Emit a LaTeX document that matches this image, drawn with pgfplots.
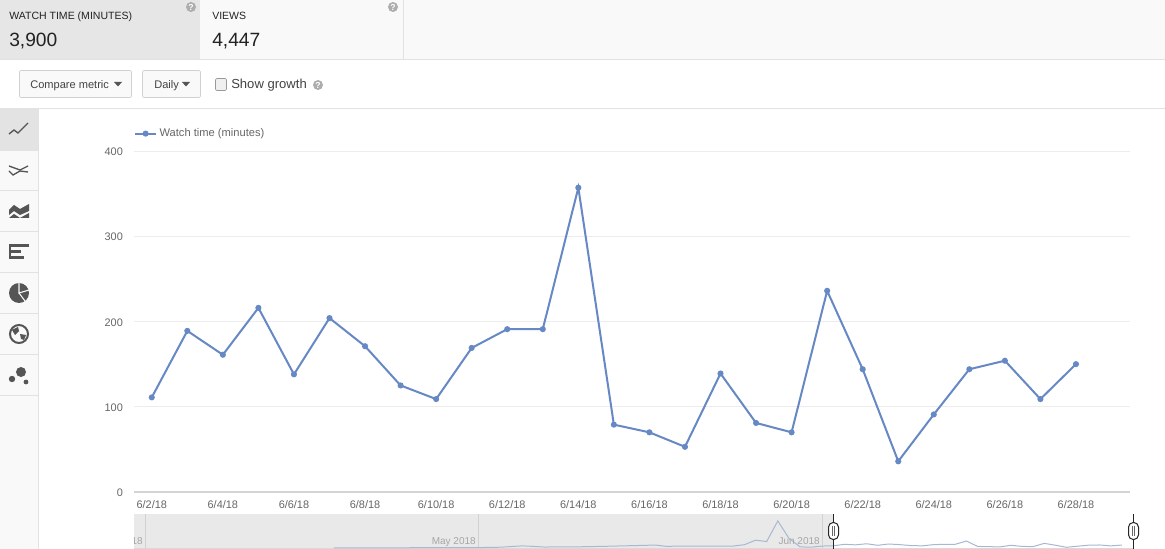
\documentclass[border=0pt]{standalone}
\usepackage{pgfplots}
\usepackage{pgfplotstable}
\usepackage{fontspec}
\setmainfont{Liberation Sans}
\pgfplotsset{compat=1.18}

\definecolor{linecol}{HTML}{6688C4}
\definecolor{navcol}{HTML}{A8B8D2}
\definecolor{panel}{HTML}{F9F9F9}
\definecolor{tabsel}{HTML}{E6E6E6}
\definecolor{rulecol}{HTML}{E2E2E2}
\definecolor{gridcol}{HTML}{EDEDED}
\definecolor{txt}{HTML}{222222}
\definecolor{ticktxt}{HTML}{666666}
\definecolor{icon}{HTML}{555555}
\definecolor{navgray}{HTML}{E9E9E9}

% day of June, watch time in minutes
\pgfplotstableread{
day minutes
2 111
3 189
4 161
5 216
6 138
7 204
8 171
9 125
10 109
11 169
12 191
13 191
14 357
15 79
16 70
17 53
18 139
19 81
20 70
21 236
22 144
23 36
24 91
25 144
26 154
27 109
28 150
}\maindata

% overview strip before the selected range, days from June 1
\pgfplotstableread{
day minutes
-44 5
-40 10
-35 15
-31 20
-29 40
-27 110
-25 50
-22 60
-20 80
-15 150
-14 80
-13 100
-11 100
-8 100
-7 170
-6 400
-5 330
-4 1380
-3 500
-2 60
-1 40
0 100
1 111
}\navdata

\newcommand{\fs}[1]{\fontsize{#1}{#1}\selectfont}
\newcommand{\qmark}[2]{%
  \fill[black!32] (#1,#2) circle (5);
  \node[white,font=\fs{6.5}\bfseries,inner sep=0] at (#1,#2) {?};}

\begin{document}
\begin{tikzpicture}[x=0.75pt,y=-0.75pt]
\useasboundingbox (0,0) rectangle (1165,549);
\fill[white] (0,0) rectangle (1165,549);
\coordinate (mainsw) at (134,492);
\coordinate (navsw) at (134,549);

% top tabs
\fill[panel] (0,0) rectangle (1165,59);
\fill[tabsel] (0,0) rectangle (200,59);
\draw[rulecol] (0,59.5) -- (1165,59.5);
\draw[rulecol] (403.5,0) -- (403.5,59);
\node[anchor=base west,inner sep=0,text=txt,font=\fs{7.9}] at (9,20) {WATCH TIME (MINUTES)};
\node[anchor=base west,inner sep=0,text=txt,font=\fs{14.4}] at (9,47) {3,900};
\node[anchor=base west,inner sep=0,text=txt,font=\fs{7.9}] at (212,20) {VIEWS};
\node[anchor=base west,inner sep=0,text=txt,font=\fs{14.4}] at (212,47) {4,447};
\qmark{191}{7}
\qmark{393}{7}

% controls
\draw[black!18,fill=panel,rounded corners=1] (19.5,70.5) rectangle (131.5,97.5);
\draw[black!18,fill=panel,rounded corners=1] (142.5,70.5) rectangle (200.5,97.5);
\node[anchor=base west,inner sep=0,text=txt!85,font=\fs{8.3}] at (30,89) {Compare metric};
\node[anchor=base west,inner sep=0,text=txt!85,font=\fs{8.3}] at (154,89) {Daily};
\fill[icon] (114,82) -- (122,82) -- (118,86.5) -- cycle;
\fill[icon] (182,82) -- (190,82) -- (186,86.5) -- cycle;
\draw[black!40,fill=black!6,rounded corners=1] (215.5,78.5) rectangle (226.5,90.5);
\node[anchor=base west,inner sep=0,text=txt!85,font=\fs{9.8}] at (231,89) {Show growth};
\qmark{318}{85}
\draw[rulecol] (0,108.5) -- (1165,108.5);

% chart type sidebar
\fill[panel] (0,109) rectangle (38,549);
\fill[black!11] (0,109) rectangle (38,150);
\draw[rulecol] (38.5,109) -- (38.5,549);
\foreach \yy in {150,190,231,272,313,354,395}
  \draw[rulecol] (0,\yy.5) -- (38,\yy.5);
% line
\draw[icon,line width=1pt] (9,134) -- (14,130) -- (18,133) -- (28,123);
% two lines
\draw[icon,line width=1pt] (9,166) -- (20,170) -- (28,166);
\draw[icon,line width=1pt] (9,171) -- (13,175) -- (20,171) -- (28,172);
% area
\fill[icon] (9,210) -- (14,205) -- (20,209) -- (29,204) -- (29,211) -- (20,215) -- (14,211) -- (9,215) -- cycle;
\fill[icon] (9,218) -- (14,214) -- (20,218) -- (29,213) -- (29,218) -- cycle;
% bars
\fill[icon] (9,244) rectangle (29,247);
\fill[icon] (9,250) rectangle (21,253);
\fill[icon] (9,256) rectangle (24,259);
\fill[icon] (9,244) rectangle (11,259);
% pie
\fill[icon] (19,293) circle (10);
\draw[panel,line width=0.8pt] (19,283) -- (19,293) -- (29,290);
\draw[panel,line width=0.8pt] (19,293) -- (25,301);
% globe
\draw[icon,line width=1.5pt] (19,334) circle (9);
\fill[icon] (12,330) -- (18,327) -- (19,331) -- (15,335) -- cycle;
\fill[icon] (20,334) -- (26,335) -- (24,340) -- (21,339) -- cycle;
% bubbles
\fill[icon] (21,372) circle (5);
\fill[icon] (12,379) circle (3.2);
\fill[icon] (26,382) circle (2.4);

% overview strip background
\fill[navgray] (134,514) rectangle (833,549);
\draw[black!18] (145.5,514) -- (145.5,549);
\draw[black!18] (478.5,514) -- (478.5,549);
\draw[black!18] (822.5,514) -- (822.5,549);
\draw[black!15] (134,548.5) -- (1133,548.5);

% main chart
\begin{axis}[
  at={(mainsw)}, anchor=south west,
  scale only axis, width=747pt, height=255.75pt,
  xmin=1.5, xmax=29.52, ymin=0, ymax=400,
  axis y line=left, axis x line=bottom,
  axis line style={draw=none},
  xtick={2,4,...,28},
  xticklabels={6/2/18,6/4/18,6/6/18,6/8/18,6/10/18,6/12/18,6/14/18,6/16/18,6/18/18,6/20/18,6/22/18,6/24/18,6/26/18,6/28/18},
  ytick={0,100,200,300,400},
  major tick length=0pt,
  tick align=outside,
  ymajorgrids, grid style={gridcol,line width=0.75pt},
  /pgf/number format/assume math mode=true,
  ticklabel style={text=ticktxt,font=\fs{8.2}},
  xticklabel style={yshift=-2.8pt},
  yticklabel style={xshift=-4.8pt,yshift=-0.7pt},
  legend style={at={(0,1.0557)},anchor=west,yshift=-1.2pt,draw=none,fill=none,inner sep=0pt,
    font=\fs{8.35},text=ticktxt,legend cell align=left},
  legend image code/.code={
    \draw[#1,line width=1.5pt,mark=none] (0,0) -- (15.5pt,0);
    \fill[linecol] (7.75pt,0) circle (1.5pt);},
  clip=false,
]
\addplot[linecol,line width=1.5pt,mark=*,mark size=1.5pt,mark options={fill=linecol,draw=linecol}]
  table[x=day,y=minutes] {\maindata};
\addlegendentry{Watch time (minutes)}
\draw[black!17,line width=1.5pt] (axis cs:1.5,0) -- (axis cs:29.52,0);
\end{axis}

% overview strip
\begin{axis}[
  at={(navsw)}, anchor=south west,
  scale only axis, width=749.25pt, height=26.25pt,
  xmin=-62, xmax=28, ymin=-51, ymax=1734,
  hide axis,
]
\addplot[navcol,line width=0.75pt] table[x=day,y=minutes] {\navdata};
\addplot[navcol,line width=0.75pt] table[x expr=\thisrow{day}-1,y=minutes] {\maindata};
\end{axis}

% overview labels and handles
\begin{scope}
\clip (134,514) rectangle (1165,549);
\node[anchor=base east,inner sep=0,text=black!35,font=\fs{7.5}] at (143,544) {Jan 2018};
\end{scope}
\node[anchor=base east,inner sep=0,text=black!35,font=\fs{7.5}] at (476,544) {May 2018};
\node[anchor=base east,inner sep=0,text=black!35,font=\fs{7.5}] at (820,544) {Jun 2018};
\foreach \hx in {833,1133} {
  \draw[black!85,line width=0.75pt] (\hx.5,514) -- (\hx.5,549);
  \draw[black!85,fill=white,line width=0.75pt,rounded corners=3.5] (\hx-4.5,522.5) rectangle (\hx+5.5,539.5);
  \draw[black!60,line width=0.5pt] (\hx-0.5,526) -- (\hx-0.5,536);
  \draw[black!60,line width=0.5pt] (\hx+1.5,526) -- (\hx+1.5,536);
}
\end{tikzpicture}
\end{document}
